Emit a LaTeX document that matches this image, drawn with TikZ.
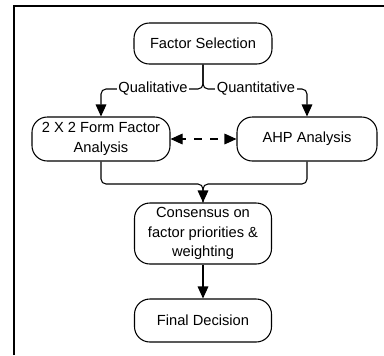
\documentclass[tikz,border=0pt]{standalone}
\usepackage{fontspec}
\setmainfont{Liberation Sans}
\usetikzlibrary{arrows.meta}
\begin{document}
\begin{tikzpicture}[x=0.75pt,y=-0.75pt,
  box/.style={draw=black,line width=0.8pt,rounded corners=11.5pt,align=center,
    inner sep=0pt,font=\fontsize{11}{14.5}\selectfont},
  lbl/.style={fill=white,inner sep=1.2pt,font=\fontsize{11}{13}\selectfont},
  conn/.style={draw=black,line width=0.8pt},
  tip/.style={-{Triangle[width=8pt,length=9pt]}},
  dtip/.style={{Triangle[width=8pt,length=9pt]}-{Triangle[width=8pt,length=9pt]}}]
\useasboundingbox (0,0) rectangle (384,355);
% frame (left and top only)
\coordinate (fr1) at (14,355);
\coordinate (fr2) at (14,6);
\coordinate (fr3) at (384,6);
\draw[line width=0.9pt] (fr1) -- (fr2) -- (fr3);
% nodes
\node[box,minimum width=103.5pt,minimum height=30.75pt] (fs) at (203,43.5) {Factor Selection};
\node[box,minimum width=103.5pt,minimum height=33pt] (ff) at (101,139) {2 X 2 Form Factor\\Analysis};
\node[box,minimum width=105pt,minimum height=33pt] (ahp) at (307,139) {AHP Analysis};
\node[box,minimum width=102.75pt,minimum height=45.75pt] (cons) at (203,233.5) {Consensus on\\factor priorities \&\\weighting};
\node[box,minimum width=102.75pt,minimum height=32.25pt] (fd) at (203,320.5) {Final Decision};
% split
\coordinate (j1) at (203,89);
\draw[conn,tip,rounded corners=3.75pt] (fs.south) |- (ff.north |- j1) -- (ff.north);
\draw[conn,tip,rounded corners=3.75pt] (fs.south) |- (ahp.north |- j1) -- (ahp.north);
\node[lbl] (ql) at (153,89) {Qualitative};
\node[lbl] (qn) at (256,89) {Quantitative};
% dashed double arrow
\draw[conn,dtip,dash pattern=on 6pt off 6pt,dash phase=3pt] (ff.east) -- (ahp.west);
% merge
\coordinate (j2) at (203,184);
\draw[conn,tip,rounded corners=3.75pt] (ff.south) |- (j2) -- (cons.north);
\draw[conn,rounded corners=3.75pt] (ahp.south) |- (j2) -- (cons.north);
% final
\draw[conn,tip] (cons.south) -- (fd.north);
\end{tikzpicture}
\end{document}
